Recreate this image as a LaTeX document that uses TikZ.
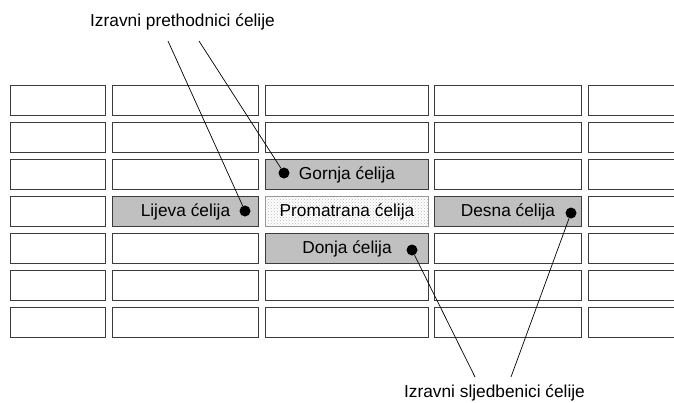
\documentclass[tikz,border=0pt]{standalone}
\usepackage{fontspec}
\setmainfont{Liberation Sans}
\usepackage{tikz}
\usepackage{xcolor}
\usetikzlibrary{positioning, patterns}

\definecolor{cellline}{HTML}{3C3C3C}
\definecolor{cellgray}{HTML}{C0C0C0}

\begin{document}
\begin{tikzpicture}[
    x=1pt, y=-1pt,
    cell/.style={rectangle, draw=cellline, fill=white, line width=1.1pt,
                 minimum height=30pt, inner sep=0pt, outer sep=0pt,
                 font=\fontsize{17.3}{20}\selectfont},
    nbr/.style={cell, fill=cellgray},
    own/.style={cell, draw=gray!80, pattern=crosshatch dots, pattern color=gray!55},
    dot/.style={circle, fill=black, minimum size=11pt, inner sep=0pt},
    lead/.style={black, line width=0.7pt},
    lbl/.style={font=\fontsize{17.3}{20}\selectfont, inner sep=0pt},
]
\clip (0,0) rectangle (674,402);

% Grid of cells (5 columns x 7 rows)
\foreach \cy [count=\j] in {100.5,137.5,174.5,211.5,248.5,285.5,322.5}
  \foreach \cx/\w [count=\i] in {58/95, 185.5/146, 347/163, 508/147, 662/147}
    \node[cell, minimum width=\w pt] (c\i-\j) at (\cx,\cy) {};

% Observed cell and its neighbours
\node[nbr, minimum width=163pt] (gornja) at (347,174.5) {Gornja ćelija};
\node[nbr, minimum width=146pt] (lijeva) at (185.5,211.5) {Lijeva ćelija};
\node[own, minimum width=163pt] (promatrana) at (347,211.5) {};
\node[lbl] (promtext) at (promatrana) {Promatrana ćelija};
\node[nbr, minimum width=147pt] (desna) at (508,211.5) {Desna ćelija};
\node[nbr, minimum width=163pt] (donja) at (347,248.5) {Donja ćelija};

% Dots
\node[dot] (dgornja) at (284,173) {};
\node[dot] (dlijeva) at (245,211) {};
\node[dot] (ddesna)  at (571,213) {};
\node[dot] (ddonja)  at (412,250) {};

% Predecessors label
\node[lbl] (prev) at (182.5,22) {Izravni prethodnici ćelije};
\coordinate (prevA) at (168,41);
\coordinate (prevB) at (199,41);
\draw[lead] (prevA) -- (dlijeva);
\draw[lead] (prevB) -- (dgornja);

% Successors label
\node[lbl] (next) at (494.5,393) {Izravni sljedbenici ćelije};
\coordinate (nextA) at (475,377);
\coordinate (nextB) at (511,377);
\draw[lead] (ddonja) -- (nextA);
\draw[lead] (ddesna) -- (nextB);

\end{tikzpicture}
\end{document}
